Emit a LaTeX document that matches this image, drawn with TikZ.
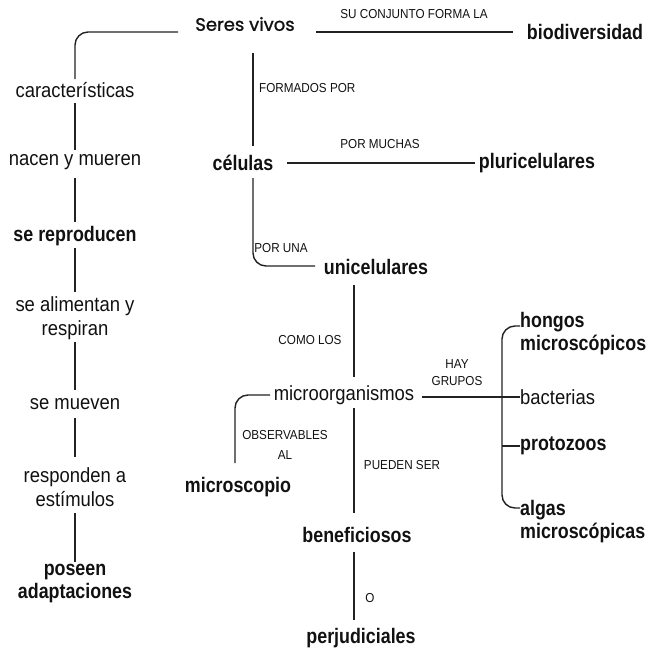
\documentclass[tikz,border=0pt]{standalone}
\usepackage{fontspec}
\setmainfont{Liberation Sans}
\newfontfamily\regfam[FakeStretch=0.9]{Liberation Sans}
\newfontfamily\boldfam[FakeStretch=0.85]{Liberation Sans}
\newfontfamily\titlefam[FakeBold=1.2]{Poppins}
\usetikzlibrary{calc}
\definecolor{ink}{HTML}{111111}
\definecolor{wire}{HTML}{222222}
\begin{document}
\begin{tikzpicture}[x=1pt,y=-1pt,
  every node/.style={inner sep=0pt, text=ink},
  reg/.style={font=\regfam\fontsize{20.5}{24}\selectfont, align=center},
  bld/.style={font=\boldfam\bfseries\fontsize{21}{23}\selectfont, align=center},
  tag/.style={font=\regfam\fontsize{13}{17}\selectfont, align=center},
  title/.style={font=\titlefam\fontsize{18}{20}\selectfont},
  link/.style={draw=wire, line width=1.4pt},
  roundlink/.style={link, rounded corners=13pt}]
\useasboundingbox (0,0) rectangle (649,649);

% main concept
\node[title] (seres) at (245,24) {Seres vivos};
\node[bld] (bio) at (585,32) {biodiversidad};
\node[tag] (tSu) at (414,14) {SU CONJUNTO FORMA LA};

% characteristics column
\node[reg] (carac) at (75,90) {características};
\node[reg] (nacen) at (75,162) {nacen y mueren};
\node[bld] (repro) at (75,236) {se reproducen};
\node[reg] (alim) at (75,318) {se alimentan y\\respiran};
\node[reg] (mueven) at (75,404) {se mueven};
\node[reg] (resp) at (75,487) {responden a\\estímulos};
\node[bld] (posee) at (75,584) {poseen\\adaptaciones};

% cells branch
\node[bld] (cel) at (243,163) {células};
\node[bld] (pluri) at (537,163) {pluricelulares};
\node[bld] (uni) at (376,267) {unicelulares};
\node[reg] (micro) at (344,395) {microorganismos};
\node[bld] (mscope) at (238,487) {microscopio};
\node[bld] (benef) at (357,535) {beneficiosos};
\node[bld] (perj) at (361,638) {perjudiciales};

% groups of microorganisms
\node[bld, anchor=west, align=left] (hongos) at (520,334) {hongos\\microscópicos};
\node[reg, anchor=west] (bact) at (520,397) {bacterias};
\node[bld, anchor=west] (proto) at (520,446) {protozoos};
\node[bld, anchor=west, align=left] (algas) at (520,522) {algas\\microscópicas};

% link labels
\node[tag, anchor=west] (tForm) at (259,88) {FORMADOS POR};
\node[tag] (tMuchas) at (380,144) {POR MUCHAS};
\node[tag] (tUna) at (281,248) {POR UNA};
\node[tag] (tComo) at (310,340) {COMO LOS};
\node[tag, font=\regfam\fontsize{13}{20}\selectfont] (tObs) at (285,445) {OBSERVABLES\\AL};
\node[tag] (tPueden) at (402,465) {PUEDEN SER};
\node[tag] (tHay) at (457,373) {HAY\\GRUPOS};
\node[tag] (tO) at (370,598) {O};

% connectors
\draw[roundlink] ($(seres)+(-67,8)$) -| ($(carac)+(0,-11)$);
\draw[link] ($(seres)+(71,8)$) -- ($(bio)+(-72,0)$);
\draw[link] ($(seres)+(8,29)$) -- ($(cel)+(10,-17)$);
\draw[link] ($(cel)+(44,0)$) -- ($(pluri)+(-62,0)$);
\draw[roundlink] ($(cel)+(10,15)$) |- ($(uni)+(-61,-1)$);
\draw[link] ($(uni)+(-22,18)$) -- ($(micro)+(10,-18)$);
\draw[roundlink] ($(micro)+(-74,0)$) -| ($(mscope)+(-3,-24)$);
\draw[link] ($(micro)+(10,13)$) -- ($(benef)+(-3,-22)$);
\draw[link] ($(benef)+(-3,17)$) -- ($(perj)+(-7,-18)$);
\draw[link] ($(micro)+(78,2)$) -- (bact.west);
\draw[roundlink] ($(hongos.west)+(0,-8)$) -| ($(algas.west)+(-18,-14)$) -- ($(algas.west)+(0,-14)$);
\draw[link] ($(proto.west)+(-18,0)$) -- (proto.west);

\draw[link] ($(carac)+(0,13)$) -- ($(nacen)+(0,-12)$);
\draw[link] ($(nacen)+(0,16)$) -- ($(repro)+(0,-14)$);
\draw[link] ($(repro)+(0,12)$) -- ($(alim)+(0,-26)$);
\draw[link] ($(alim)+(0,24)$) -- ($(mueven)+(0,-14)$);
\draw[link] ($(mueven)+(0,14)$) -- ($(resp)+(0,-30)$);
\draw[link] ($(resp)+(0,26)$) -- ($(posee)+(0,-22)$);
\end{tikzpicture}
\end{document}
